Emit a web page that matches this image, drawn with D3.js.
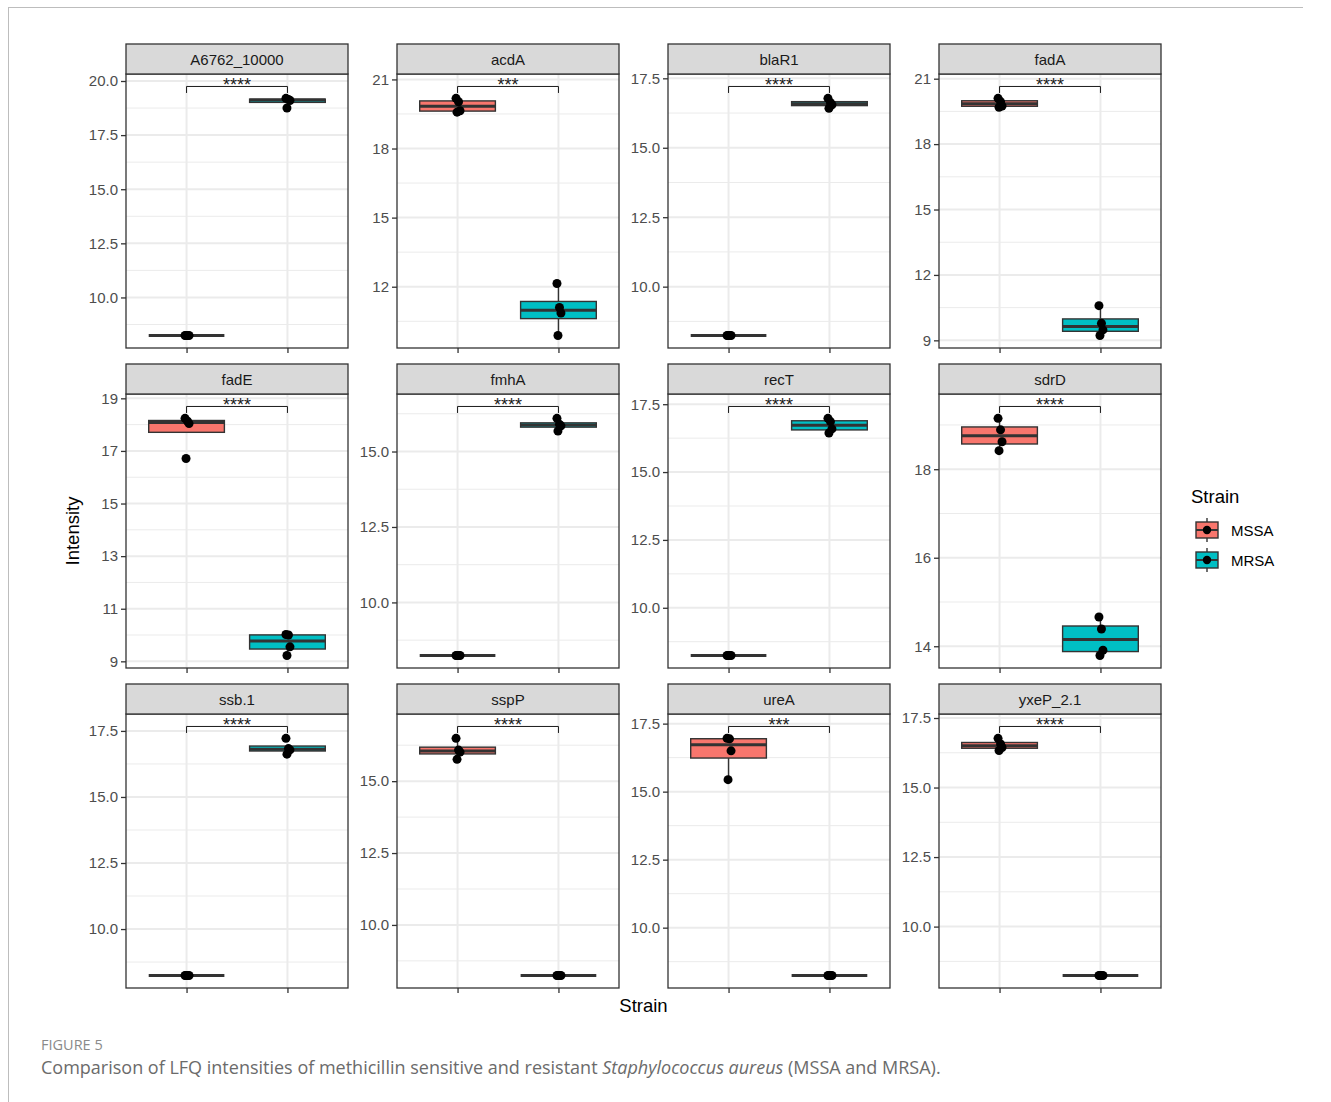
<!DOCTYPE html>
<html>
<head>
<meta charset="utf-8">
<script src="https://cdn.jsdelivr.net/npm/d3@7"></script>
<style>
  body { margin: 0; background: #fff; }
  svg { display: block; }
</style>
</head>
<body>
<div id="chart"></div>
<script>
// values (LFQ intensity, 4 replicates per strain)
const genes = ["A6762_10000", "acdA", "blaR1", "fadA", "fadE", "fmhA",
  "recT", "sdrD", "ssb.1", "sspP", "ureA", "yxeP_2.1"];
const strains = ["MSSA", "MRSA"];
const mssaValues = [
  [8.24, 8.24, 8.24, 8.24],
  [20.18, 20.03, 19.64, 19.58],
  [8.24, 8.24, 8.24, 8.24],
  [20.1, 19.95, 19.75, 19.69],
  [18.24, 18.13, 18.04, 16.71],
  [8.24, 8.24, 8.24, 8.24],
  [8.24, 8.24, 8.24, 8.24],
  [19.15, 18.89, 18.62, 18.42],
  [8.24, 8.24, 8.24, 8.24],
  [16.49, 16.08, 16.01, 15.76],
  [16.96, 16.94, 16.5, 15.44],
  [16.77, 16.57, 16.44, 16.33]
];
const mrsaValues = [
  [19.2, 19.15, 19.1, 18.75],
  [12.14, 11.1, 10.86, 9.88],
  [16.78, 16.62, 16.55, 16.42],
  [10.59, 9.78, 9.48, 9.22],
  [10.02, 10.0, 9.55, 9.22],
  [16.1, 15.9, 15.85, 15.68],
  [16.98, 16.86, 16.59, 16.44],
  [14.66, 14.39, 13.91, 13.79],
  [17.22, 16.83, 16.78, 16.62],
  [8.24, 8.24, 8.24, 8.24],
  [8.24, 8.24, 8.24, 8.24],
  [8.24, 8.24, 8.24, 8.24]
];
const signifLabels = ["****", "***", "****", "****", "****", "****",
  "****", "****", "****", "****", "***", "****"];
const tickLabels = [
  ["10.0", "12.5", "15.0", "17.5", "20.0"],
  ["12", "15", "18", "21"],
  ["10.0", "12.5", "15.0", "17.5"],
  ["9", "12", "15", "18", "21"],
  ["9", "11", "13", "15", "17", "19"],
  ["10.0", "12.5", "15.0"],
  ["10.0", "12.5", "15.0", "17.5"],
  ["14", "16", "18"],
  ["10.0", "12.5", "15.0", "17.5"],
  ["10.0", "12.5", "15.0"],
  ["10.0", "12.5", "15.0", "17.5"],
  ["10.0", "12.5", "15.0", "17.5"]
];

const W = 1331, H = 1102;
const colors = { MSSA: "#F8766D", MRSA: "#00BFC4" };
const FONT = "'Liberation Sans', Arial, Helvetica, sans-serif";
const panelX = [126, 397, 668, 939];
const stripY = [44, 364, 684];
const panelW = 222, stripH = 30, panelH = 274;
const jitterPx = [-1.5, 1, 2.5, -0.5];

const svg = d3.select("#chart").append("svg")
  .attr("width", W).attr("height", H)
  .style("font-family", FONT);

// page frame
svg.append("line").attr("x1", 8).attr("x2", 1303).attr("y1", 7.5).attr("y2", 7.5)
  .attr("stroke", "#bdbdbd").attr("stroke-width", 1);
svg.append("line").attr("x1", 8.5).attr("x2", 8.5).attr("y1", 7).attr("y2", H)
  .attr("stroke", "#bdbdbd").attr("stroke-width", 1);

const x = d3.scalePoint().domain(strains).range([0, panelW]).padding(0.6);
const boxW = x.step() * 0.75;

function boxStats(vals) {
  const s = vals.slice().sort(d3.ascending);
  const q1 = d3.quantile(s, 0.25), med = d3.quantile(s, 0.5), q3 = d3.quantile(s, 0.75);
  const iqr = q3 - q1;
  const lo = d3.min(s.filter(v => v >= q1 - 1.5 * iqr));
  const hi = d3.max(s.filter(v => v <= q3 + 1.5 * iqr));
  return { q1, med, q3, lo, hi };
}

genes.forEach((gene, gi) => {
  const col = gi % 4, row = Math.floor(gi / 4);
  const px = panelX[col], sy = stripY[row], py = sy + stripH;
  const groups = { MSSA: mssaValues[gi], MRSA: mrsaValues[gi] };
  const all = mssaValues[gi].concat(mrsaValues[gi]);
  const [dmin, dmax] = d3.extent(all);
  const bracketY = dmax + 0.05 * (dmax - dmin);
  const R = bracketY - dmin;
  const y = d3.scaleLinear().domain([dmin - 0.05 * R, bracketY + 0.05 * R]).range([panelH, 0]);

  const ticks = tickLabels[gi].map(Number);
  const step = ticks[1] - ticks[0];
  const ext = [ticks[0] - step].concat(ticks, [ticks[ticks.length - 1] + step]);
  const minor = d3.pairs(ext).map(([a, b]) => (a + b) / 2)
    .filter(v => v > y.domain()[0] && v < y.domain()[1]);

  const g = svg.append("g").attr("transform", `translate(${px},${py})`);
  g.append("rect").attr("width", panelW).attr("height", panelH).attr("fill", "#fff");

  // grid
  g.selectAll(".minor").data(minor).join("line")
    .attr("x1", 0).attr("x2", panelW).attr("y1", d => y(d)).attr("y2", d => y(d))
    .attr("stroke", "#EBEBEB").attr("stroke-width", 1);
  g.selectAll(".major").data(ticks).join("line")
    .attr("x1", 0).attr("x2", panelW).attr("y1", d => y(d)).attr("y2", d => y(d))
    .attr("stroke", "#EBEBEB").attr("stroke-width", 2);
  g.selectAll(".vmajor").data(strains).join("line")
    .attr("x1", d => x(d)).attr("x2", d => x(d)).attr("y1", 0).attr("y2", panelH)
    .attr("stroke", "#EBEBEB").attr("stroke-width", 2);

  // boxplots
  strains.forEach(st => {
    const b = boxStats(groups[st]);
    const cx = x(st);
    const bg = g.append("g");
    bg.append("line").attr("x1", cx).attr("x2", cx).attr("y1", y(b.hi)).attr("y2", y(b.q3))
      .attr("stroke", "#333").attr("stroke-width", 1.4);
    bg.append("line").attr("x1", cx).attr("x2", cx).attr("y1", y(b.q1)).attr("y2", y(b.lo))
      .attr("stroke", "#333").attr("stroke-width", 1.4);
    bg.append("rect").attr("x", cx - boxW / 2).attr("width", boxW)
      .attr("y", y(b.q3)).attr("height", Math.max(0, y(b.q1) - y(b.q3)))
      .attr("fill", colors[st]).attr("stroke", "#333").attr("stroke-width", 1.4);
    bg.append("line").attr("x1", cx - boxW / 2).attr("x2", cx + boxW / 2)
      .attr("y1", y(b.med)).attr("y2", y(b.med))
      .attr("stroke", "#333").attr("stroke-width", 3);
    bg.selectAll("circle").data(groups[st]).join("circle")
      .attr("cx", (d, i) => cx + jitterPx[i % jitterPx.length])
      .attr("cy", d => y(d)).attr("r", 4.5).attr("fill", "#000");
  });

  // significance bracket
  const by = y(bracketY);
  g.append("path")
    .attr("d", `M${x("MSSA")},${by + 6.5}V${by}H${x("MRSA")}V${by + 6.5}`)
    .attr("fill", "none").attr("stroke", "#1a1a1a").attr("stroke-width", 1);
  g.append("text").attr("x", (x("MSSA") + x("MRSA")) / 2).attr("y", by + 5)
    .attr("text-anchor", "middle").attr("font-size", 18).attr("fill", "#1a1a1a")
    .text(signifLabels[gi]);

  g.append("rect").attr("width", panelW).attr("height", panelH)
    .attr("fill", "none").attr("stroke", "#333").attr("stroke-width", 1.3);

  // axes
  const ya = g.append("g").call(d3.axisLeft(y).tickValues(ticks)
    .tickFormat((d, i) => tickLabels[gi][i]).tickSize(5).tickPadding(3));
  const xa = g.append("g").attr("transform", `translate(0,${panelH})`)
    .call(d3.axisBottom(x).tickSize(5).tickFormat(""));
  [ya, xa].forEach(a => {
    a.select(".domain").remove();
    a.selectAll("line").attr("stroke", "#333").attr("stroke-width", 1.3);
    a.selectAll("text").attr("fill", "#4D4D4D").attr("font-size", 15).style("font-family", FONT);
  });

  // strip
  svg.append("rect").attr("x", px).attr("y", sy).attr("width", panelW).attr("height", stripH)
    .attr("fill", "#D9D9D9").attr("stroke", "#333").attr("stroke-width", 1.3);
  svg.append("text").attr("x", px + panelW / 2).attr("y", sy + stripH / 2 + 5.5)
    .attr("text-anchor", "middle").attr("font-size", 15).attr("fill", "#1A1A1A")
    .text(gene);
});

// axis titles
svg.append("text").attr("transform", "translate(79,531) rotate(-90)")
  .attr("text-anchor", "middle").attr("font-size", 18.5).attr("fill", "#000").text("Intensity");
svg.append("text").attr("x", 643.5).attr("y", 1012)
  .attr("text-anchor", "middle").attr("font-size", 18.5).attr("fill", "#000").text("Strain");

// legend
const lg = svg.append("g").attr("transform", "translate(1191,0)");
lg.append("text").attr("x", 0).attr("y", 503).attr("font-size", 18.5).attr("fill", "#000").text("Strain");
strains.forEach((st, i) => {
  const cy = 530 + i * 30, cx = 16;
  const k = lg.append("g");
  k.append("line").attr("x1", cx).attr("x2", cx).attr("y1", cy - 12).attr("y2", cy + 12)
    .attr("stroke", "#333").attr("stroke-width", 1.4);
  k.append("rect").attr("x", cx - 11).attr("y", cy - 8).attr("width", 22).attr("height", 16)
    .attr("fill", colors[st]).attr("stroke", "#333").attr("stroke-width", 1.4);
  k.append("line").attr("x1", cx - 11).attr("x2", cx + 11).attr("y1", cy).attr("y2", cy)
    .attr("stroke", "#333").attr("stroke-width", 2);
  k.append("circle").attr("cx", cx).attr("cy", cy).attr("r", 4.2).attr("fill", "#000");
  lg.append("text").attr("x", 40).attr("y", cy + 5.5).attr("font-size", 15).attr("fill", "#000").text(st);
});

// caption
svg.append("text").attr("x", 41).attr("y", 1050)
  .style("font-family", "'Open Sans', sans-serif").attr("font-size", 14.5)
  .attr("fill", "#8a8a8a").text("FIGURE 5");
const cap = svg.append("text").attr("x", 41).attr("y", 1074)
  .style("font-family", "'Open Sans', sans-serif").attr("font-size", 18).attr("fill", "#6b6b6b");
cap.append("tspan").text("Comparison of LFQ intensities of methicillin sensitive and resistant ");
cap.append("tspan").attr("font-style", "italic").text("Staphylococcus aureus");
cap.append("tspan").text(" (MSSA and MRSA).");
</script>
</body>
</html>
